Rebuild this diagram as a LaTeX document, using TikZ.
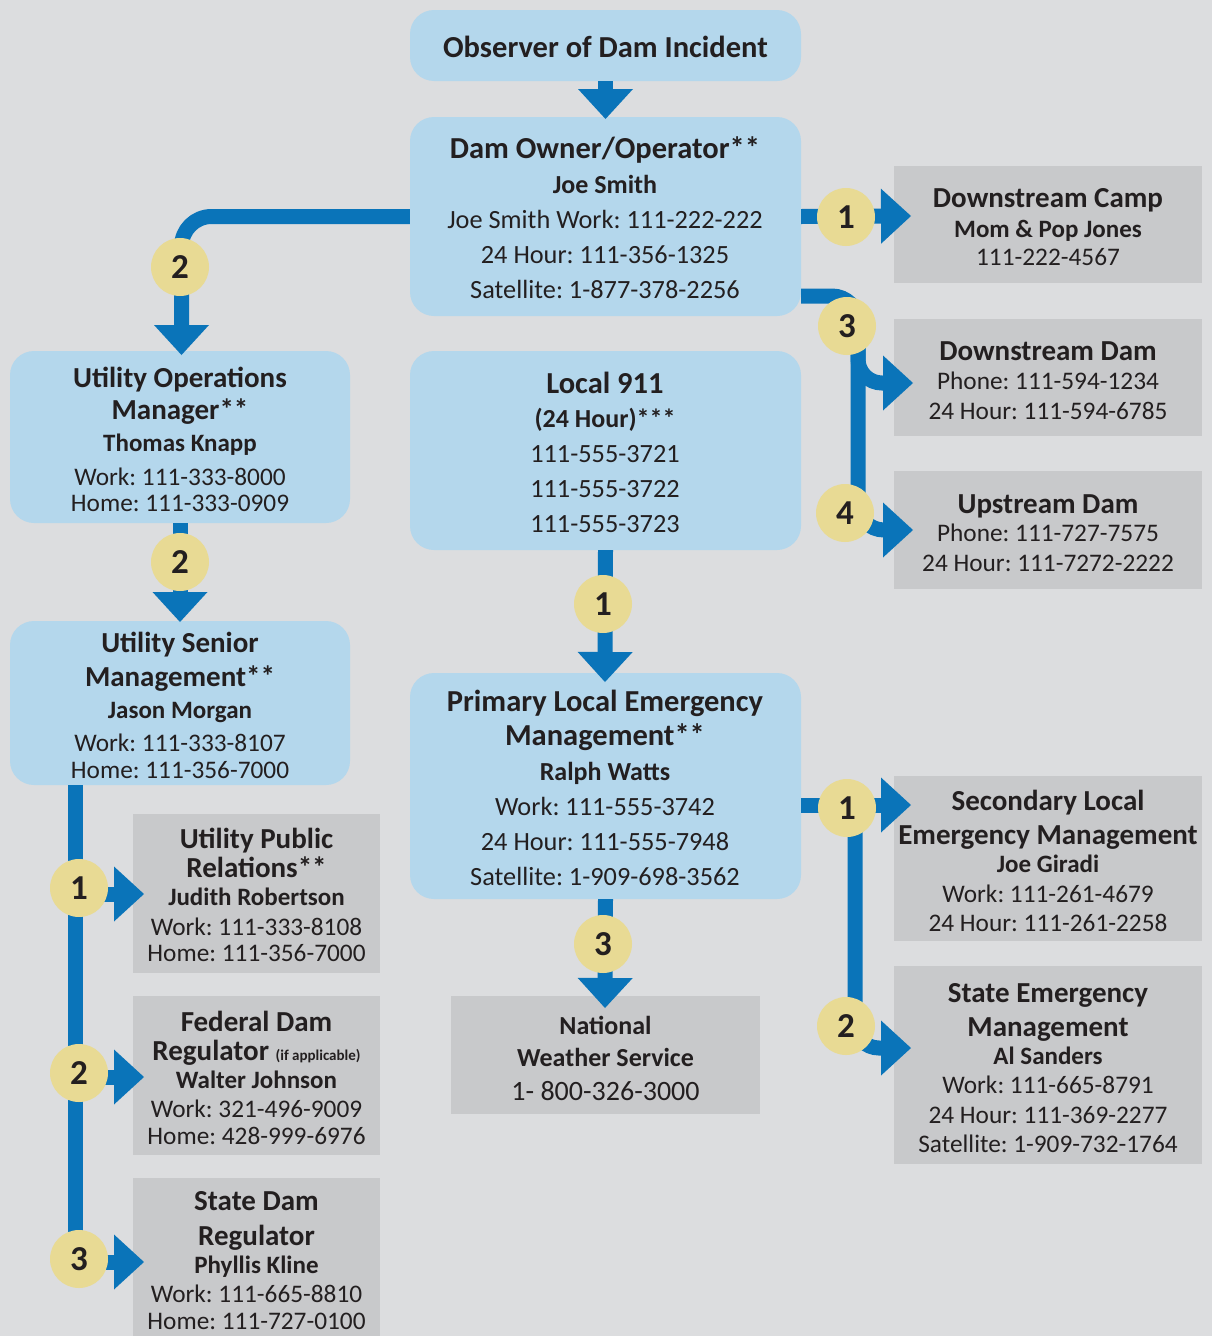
\documentclass[tikz,border=0pt]{standalone}
\usepackage{fontspec}
\setmainfont{Carlito}
\frenchspacing
\usetikzlibrary{arrows.meta}
\definecolor{bg}{HTML}{DCDDDF}
\definecolor{boxblue}{HTML}{B4D7EC}
\definecolor{boxgray}{HTML}{C8C9CB}
\definecolor{flow}{HTML}{0A74B9}
\definecolor{badge}{HTML}{E8DA94}
\definecolor{ink}{HTML}{231F20}
\tikzset{
  bluebox/.style={fill=boxblue, rounded corners=24pt, inner sep=0pt},
  graybox/.style={fill=boxgray, inner sep=0pt},
  conn/.style={draw=flow, line width=15pt, -{Triangle[length=30pt,width=55pt,line width=0pt]}},
  num/.style={circle, fill=badge, minimum size=58pt, inner sep=0pt, text=ink,
    font=\fontsize{35}{35}\selectfont\bfseries},
  txt/.style={anchor=base, text=ink, inner sep=0pt},
  hd/.style={txt, font=\fontsize{30.5}{30.5}\selectfont\bfseries},
  hds/.style={txt, font=\fontsize{29}{29}\selectfont\bfseries},
  nm/.style={txt, font=\fontsize{25}{25}\selectfont\bfseries},
  nmb/.style={txt, font=\fontsize{26}{26}\selectfont\bfseries},
  bd/.style={txt, font=\fontsize{25.3}{25.3}\selectfont},
  bdb/.style={txt, font=\fontsize{26.3}{26.3}\selectfont},
}
\begin{document}
\begin{tikzpicture}[x=1pt, y=-1pt]
\fill[bg] (0,0) rectangle (1212,1336);
\useasboundingbox (0,0) rectangle (1212,1336);

% ---------- boxes ----------
\node[bluebox, minimum width=391pt, minimum height=71pt]  (obs)  at (605.5,45.5) {};
\node[bluebox, minimum width=391pt, minimum height=199pt] (dam)  at (605.5,216.5) {};
\node[bluebox, minimum width=340pt, minimum height=172pt] (uom)  at (180,437) {};
\node[bluebox, minimum width=391pt, minimum height=199pt] (l911) at (605.5,450.5) {};
\node[bluebox, minimum width=340pt, minimum height=164pt] (usm)  at (180,703) {};
\node[bluebox, minimum width=391pt, minimum height=226pt] (plem) at (605.5,786) {};
\node[graybox, minimum width=309pt, minimum height=118pt] (nws)  at (605.5,1055) {};
\node[graybox, minimum width=308pt, minimum height=117pt] (dcamp) at (1048,224.5) {};
\node[graybox, minimum width=308pt, minimum height=117pt] (ddam) at (1048,377.5) {};
\node[graybox, minimum width=308pt, minimum height=118pt] (udam) at (1048,530) {};
\node[graybox, minimum width=308pt, minimum height=165pt] (slem) at (1048,858.5) {};
\node[graybox, minimum width=308pt, minimum height=198pt] (sem)  at (1048,1065) {};
\node[graybox, minimum width=247pt, minimum height=159pt] (upr)  at (256.5,893.5) {};
\node[graybox, minimum width=247pt, minimum height=159pt] (fdr)  at (256.5,1075.5) {};
\node[graybox, minimum width=247pt, minimum height=158pt] (sdr)  at (256.5,1257) {};

% ---------- arrow tip points ----------
\coordinate (tipDam)   at (605.5,119);
\coordinate (tipUom)   at (181.5,355);
\coordinate (tipUsm)   at (180,622);
\coordinate (tipPlem)  at (605,682);
\coordinate (tipNws)   at (605,1008);
\coordinate (tipCamp)  at (911,216);
\coordinate (tipDdam)  at (913,383);
\coordinate (tipUdam)  at (913,530);
\coordinate (tipSlem)  at (911,805);
\coordinate (tipSem)   at (911,1048);
\coordinate (tipUpr)   at (144,894);
\coordinate (tipFdr)   at (144,1077);
\coordinate (tipSdr)   at (144,1262);

% ---------- connectors ----------
\draw[conn] (obs.south) -- (tipDam);
\draw[conn, rounded corners=30pt] (dam.west) -| (tipUom);
\draw[conn] (uom.south) -- (tipUsm);
\draw[conn] (dam.east) -- (tipCamp);
\draw[conn, rounded corners=26pt] (dam.south east |- 0,296) -- (858,296) -- (858,530) -- (tipUdam);
\draw[conn, rounded corners=24pt] (858,340) |- (tipDdam);
\draw[conn] (l911.south) -- (tipPlem);
\draw[conn] (plem.south) -- (tipNws);
\draw[conn] (plem.east |- tipSlem) -- (tipSlem);
\draw[conn, rounded corners=24pt] (855,805) -- (855,1048) -- (tipSem);
\draw[conn] (usm.south -| 75,0) -- (75,1262) -- (tipSdr);
\draw[conn] (75,894) -- (tipUpr);
\draw[conn] (75,1077) -- (tipFdr);

% ---------- step badges ----------
\node[num] (n-dam-uom)  at (180,267) {2};
\node[num] (n-uom-usm)  at (180,562) {2};
\node[num] (n-camp)     at (846,217) {1};
\node[num] (n-ddam)     at (847,326) {3};
\node[num] (n-udam)     at (845,513) {4};
\node[num] (n-plem)     at (603,604) {1};
\node[num] (n-nws)      at (603,944) {3};
\node[num] (n-slem)     at (847,808) {1};
\node[num] (n-sem)      at (846,1026) {2};
\node[num] (n-upr)      at (79,888) {1};
\node[num] (n-fdr)      at (79,1073) {2};
\node[num] (n-sdr)      at (79,1259) {3};

% ---------- texts ----------
\node[hd] (obs-1) at (605.5,57) {Observer of Dam Incident};

\node[hd]  (dam-1) at (605,158) {Dam Owner/Operator**};
\node[nmb] (dam-2) at (605,193) {Joe Smith};
\node[bdb] (dam-3) at (605,228) {Joe Smith Work: 111-222-222};
\node[bdb] (dam-4) at (605,263) {24 Hour: 111-356-1325};
\node[bdb] (dam-5) at (605,298) {Satellite: 1-877-378-2256};

\node[hds] (uom-1) at (180,387) {Utility Operations};
\node[hds] (uom-2) at (180,419) {Manager**};
\node[nm]  (uom-3) at (180,451) {Thomas Knapp};
\node[bd]  (uom-4) at (180,485) {Work: 111-333-8000};
\node[bd]  (uom-5) at (180,511) {Home: 111-333-0909};

\node[hds] (usm-1) at (180,652) {Utility Senior};
\node[hds] (usm-2) at (180,686) {Management**};
\node[nm]  (usm-3) at (180,718) {Jason Morgan};
\node[bd]  (usm-4) at (180,751) {Work: 111-333-8107};
\node[bd]  (usm-5) at (180,778) {Home: 111-356-7000};

\node[hd]  (l911-1) at (605,393) {Local 911};
\node[nmb] (l911-2) at (605,427) {(24 Hour)***};
\node[bdb] (l911-3) at (605,462) {111-555-3721};
\node[bdb] (l911-4) at (605,497) {111-555-3722};
\node[bdb] (l911-5) at (605,532) {111-555-3723};

\node[hd]  (plem-1) at (605,711) {Primary Local Emergency};
\node[hd]  (plem-2) at (605,745) {Management**};
\node[nmb] (plem-3) at (605,780) {Ralph Watts};
\node[bdb] (plem-4) at (605,815) {Work: 111-555-3742};
\node[bdb] (plem-5) at (605,850) {24 Hour: 111-555-7948};
\node[bdb] (plem-6) at (605,885) {Satellite: 1-909-698-3562};

\node[txt, font=\fontsize{26}{26}\selectfont\bfseries] (nws-1) at (605.5,1034) {National};
\node[txt, font=\fontsize{26}{26}\selectfont\bfseries] (nws-2) at (605.5,1066) {Weather Service};
\node[txt, font=\fontsize{28}{28}\selectfont] (nws-3) at (605.5,1100) {1- 800-326-3000};

\node[hds] (dcamp-1) at (1048,207) {Downstream Camp};
\node[nm]  (dcamp-2) at (1048,237) {Mom \& Pop Jones};
\node[bd]  (dcamp-3) at (1048,265) {111-222-4567};

\node[hds] (ddam-1) at (1048,360) {Downstream Dam};
\node[bd]  (ddam-2) at (1048,389) {Phone: 111-594-1234};
\node[bd]  (ddam-3) at (1048,419) {24 Hour: 111-594-6785};

\node[hds] (udam-1) at (1048,513) {Upstream Dam};
\node[bd]  (udam-2) at (1048,541) {Phone: 111-727-7575};
\node[bd]  (udam-3) at (1048,571) {24 Hour: 111-7272-2222};

\node[hds] (slem-1) at (1048,810) {Secondary Local};
\node[hds] (slem-2) at (1048,844) {Emergency Management};
\node[nm]  (slem-3) at (1048,872) {Joe Giradi};
\node[bd]  (slem-4) at (1048,902) {Work: 111-261-4679};
\node[bd]  (slem-5) at (1048,931) {24 Hour: 111-261-2258};

\node[hds] (sem-1) at (1048,1002) {State Emergency};
\node[hds] (sem-2) at (1048,1036) {Management};
\node[nm]  (sem-3) at (1048,1064) {Al Sanders};
\node[bd]  (sem-4) at (1048,1093) {Work: 111-665-8791};
\node[bd]  (sem-5) at (1048,1123) {24 Hour: 111-369-2277};
\node[bd]  (sem-6) at (1048,1152) {Satellite: 1-909-732-1764};

\node[hds] (upr-1) at (256.5,848) {Utility Public};
\node[hds] (upr-2) at (256.5,877) {Relations**};
\node[nm]  (upr-3) at (256.5,905) {Judith Robertson};
\node[bd]  (upr-4) at (256.5,935) {Work: 111-333-8108};
\node[bd]  (upr-5) at (256.5,961) {Home: 111-356-7000};

\node[hds] (fdr-1) at (256.5,1031) {Federal Dam};
\node[hds] (fdr-2) at (256.5,1060) {Regulator {\fontsize{15}{15}\selectfont (if applicable)}};
\node[nm]  (fdr-3) at (256.5,1088) {Walter Johnson};
\node[bd]  (fdr-4) at (256.5,1117) {Work: 321-496-9009};
\node[bd]  (fdr-5) at (256.5,1144) {Home: 428-999-6976};

\node[hds] (sdr-1) at (256.5,1210) {State Dam};
\node[hds] (sdr-2) at (256.5,1245) {Regulator};
\node[nm]  (sdr-3) at (256.5,1273) {Phyllis Kline};
\node[bd]  (sdr-4) at (256.5,1302) {Work: 111-665-8810};
\node[bd]  (sdr-5) at (256.5,1329) {Home: 111-727-0100};
\end{tikzpicture}
\end{document}
